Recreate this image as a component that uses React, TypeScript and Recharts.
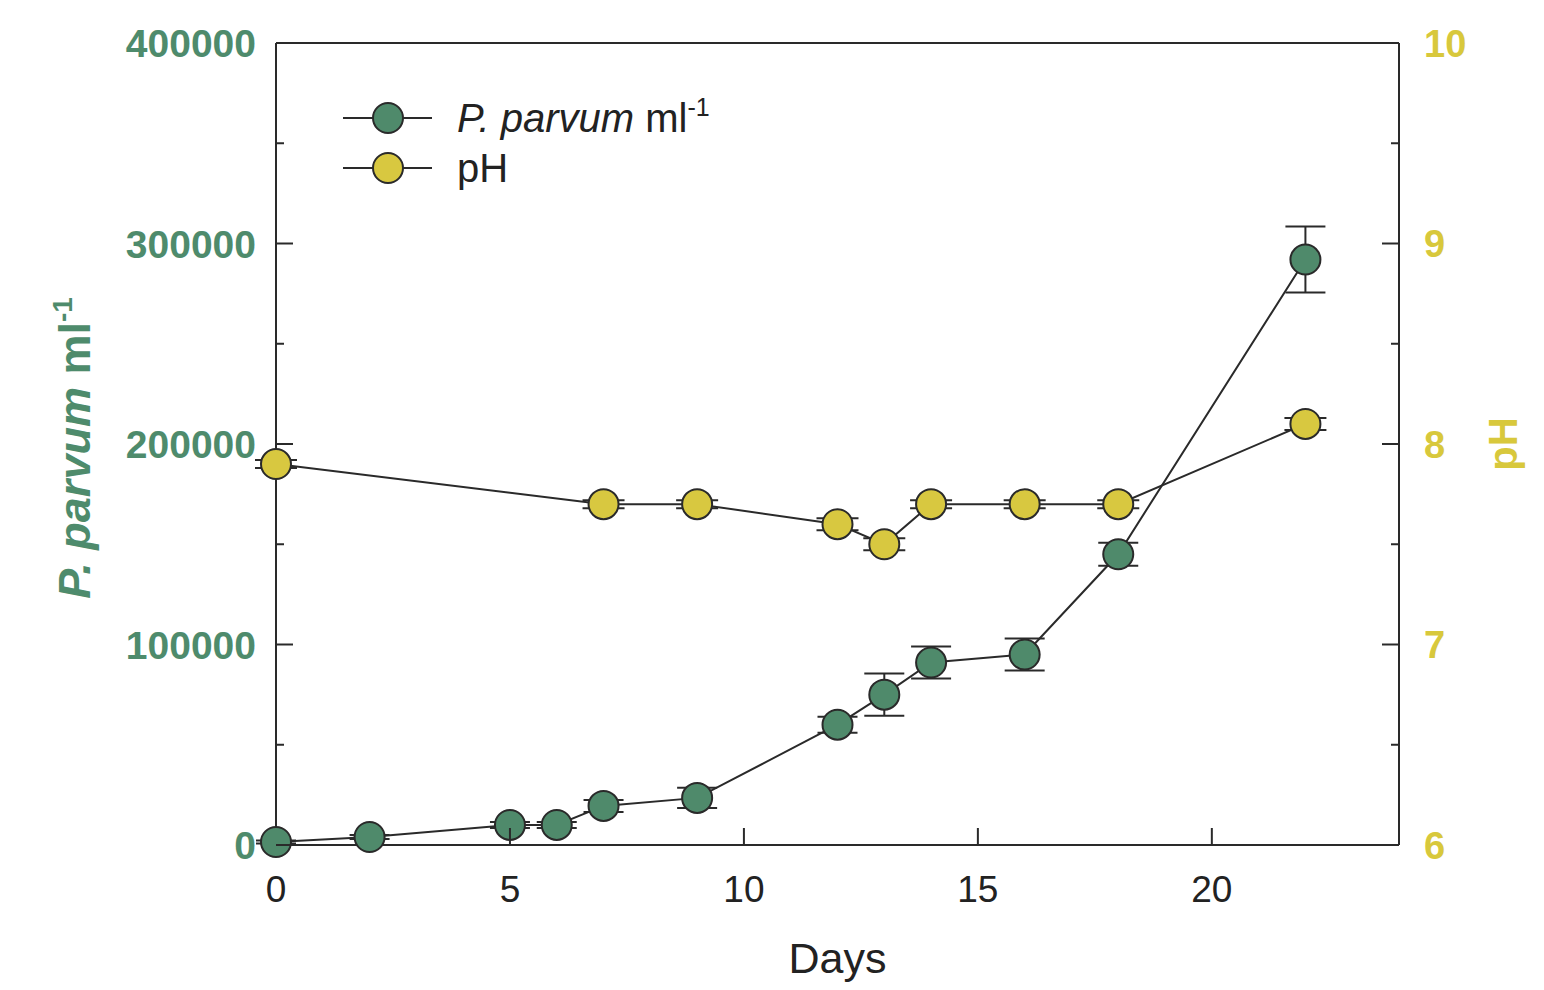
import React from 'react';
import { ComposedChart, Line, XAxis, YAxis, ErrorBar, ReferenceLine, Legend, Label } from 'recharts';

const ppDays = [0, 2, 5, 6, 7, 9, 12, 13, 14, 16, 18, 22];
const ppValues = [1500, 4000, 10000, 10000, 19500, 23500, 60000, 75000, 91000, 95000, 145000, 292000];
const ppErrors = [800, 1000, 1500, 1500, 3000, 5000, 4000, 10500, 8000, 8000, 5700, 16500];

const phDays = [0, 7, 9, 12, 13, 14, 16, 18, 22];
const phValues = [7.9, 7.7, 7.7, 7.6, 7.5, 7.7, 7.7, 7.7, 8.1];
const phErrors = [0.02, 0.02, 0.02, 0.03, 0.03, 0.02, 0.02, 0.02, 0.03];

const xTicks = [0, 5, 10, 15, 20];
const leftTicks = [0, 50000, 100000, 150000, 200000, 250000, 300000, 350000, 400000];
const rightTicks = [6, 6.5, 7, 7.5, 8, 8.5, 9, 9.5, 10];

const ppData = ppDays.map((d, i) => ({ day: d, value: ppValues[i], err: ppErrors[i] }));
const phData = phDays.map((d, i) => ({ day: d, value: phValues[i], err: phErrors[i] }));

const GREEN = '#4f8a6b';
const YELLOW = '#d8c840';
const GREEN_TEXT = '#4e8b6c';
const YELLOW_TEXT = '#d8c83c';
const INK = '#2a2a2a';
const FONT = '"Liberation Sans", Arial, Helvetica, sans-serif';

const LEFT_MARGIN = 20;
const RIGHT_MARGIN = 25;
const BOTTOM_MARGIN = 20;

const LeftTick = (props: any) => {
  const { x, y, payload } = props;
  const v = payload.value;
  const major = v % 100000 === 0;
  const ax = x + LEFT_MARGIN;
  return (
    <g>
      <line x1={ax} y1={y} x2={ax + (major ? 17 : 8)} y2={y} stroke={INK} strokeWidth={2} />
      {major && (
        <text x={x} y={y} dy="0.36em" textAnchor="end" fill={GREEN_TEXT} fontSize={39} fontWeight="bold" fontFamily={FONT}>
          {v}
        </text>
      )}
    </g>
  );
};

const RightTick = (props: any) => {
  const { x, y, payload } = props;
  const v = payload.value;
  const major = Number.isInteger(v);
  const ax = x - RIGHT_MARGIN;
  return (
    <g>
      <line x1={ax} y1={y} x2={ax - (major ? 17 : 8)} y2={y} stroke={INK} strokeWidth={2} />
      {major && (
        <text x={x} y={y} dy="0.36em" textAnchor="start" fill={YELLOW_TEXT} fontSize={38} fontWeight="bold" fontFamily={FONT}>
          {v}
        </text>
      )}
    </g>
  );
};

const BottomTick = (props: any) => {
  const { x, y, payload } = props;
  const ay = y - BOTTOM_MARGIN;
  return (
    <g>
      {payload.value !== 0 && <line x1={x} y1={ay} x2={x} y2={ay - 17} stroke={INK} strokeWidth={2} />}
      <text x={x} y={y} dy={37} textAnchor="middle" fill="#222" fontSize={37} fontFamily={FONT}>
        {payload.value}
      </text>
    </g>
  );
};

const LeftTitle = (props: any) => {
  const vb = props.viewBox || {};
  const cx = vb.x + 44;
  const cy = vb.y + vb.height / 2 + 4;
  return (
    <text
      x={cx}
      y={cy}
      transform={`rotate(-90 ${cx} ${cy})`}
      textAnchor="middle"
      fill={GREEN_TEXT}
      fontSize={45}
      fontWeight="bold"
      fontFamily={FONT}
    >
      <tspan fontStyle="italic">P. parvum</tspan>
      <tspan> ml</tspan>
      <tspan dy={-18} fontSize={28}>-1</tspan>
    </text>
  );
};

const RightTitle = (props: any) => {
  const vb = props.viewBox || {};
  const cx = vb.x + 118;
  const cy = vb.y + vb.height / 2;
  return (
    <text
      x={cx}
      y={cy}
      transform={`rotate(-90 ${cx} ${cy})`}
      textAnchor="middle"
      fill={YELLOW_TEXT}
      fontSize={40}
      fontWeight="bold"
      fontFamily={FONT}
    >
      pH
    </text>
  );
};

const LegendContent = () => (
  <svg width={420} height={110} style={{ display: 'block', overflow: 'visible' }}>
    <g>
      <line x1={0} y1={25} x2={89} y2={25} stroke={INK} strokeWidth={2} />
      <circle cx={45} cy={25} r={15} fill={GREEN} stroke={INK} strokeWidth={2} />
      <text x={114} y={39} fontSize={40} fill="#222" fontFamily={FONT}>
        <tspan fontStyle="italic">P. parvum</tspan>
        <tspan> ml</tspan>
        <tspan dy={-16} fontSize={25}>-1</tspan>
      </text>
    </g>
    <g>
      <line x1={0} y1={75} x2={89} y2={75} stroke={INK} strokeWidth={2} />
      <circle cx={45} cy={75} r={15} fill={YELLOW} stroke={INK} strokeWidth={2} />
      <text x={114} y={89} fontSize={40} fill="#222" fontFamily={FONT}>
        pH
      </text>
    </g>
  </svg>
);

export default function App() {
  return (
    <div style={{ width: 1536, height: 975, background: '#fff' }}>
      <ComposedChart width={1536} height={975} margin={{ top: 35, right: 5, left: 38, bottom: 8 }}>
        <XAxis
          dataKey="day"
          type="number"
          domain={[0, 24]}
          ticks={xTicks}
          interval={0}
          allowDuplicatedCategory={false}
          height={130}
          tickSize={0}
          tickMargin={BOTTOM_MARGIN}
          tickLine={false}
          axisLine={{ stroke: INK, strokeWidth: 2 }}
          tick={<BottomTick />}
        >
          <Label value="Days" position="insideBottom" offset={2} fill="#222" fontSize={43} fontFamily={FONT} />
        </XAxis>
        <YAxis
          yAxisId="left"
          orientation="left"
          domain={[0, 400000]}
          ticks={leftTicks}
          interval={0}
          width={230}
          tickSize={0}
          tickMargin={LEFT_MARGIN}
          tickLine={false}
          axisLine={{ stroke: INK, strokeWidth: 2 }}
          tick={<LeftTick />}
        >
          <Label content={<LeftTitle />} />
        </YAxis>
        <YAxis
          yAxisId="right"
          orientation="right"
          domain={[6, 10]}
          ticks={rightTicks}
          interval={0}
          width={140}
          tickSize={0}
          tickMargin={RIGHT_MARGIN}
          tickLine={false}
          axisLine={{ stroke: INK, strokeWidth: 2 }}
          tick={<RightTick />}
        >
          <Label content={<RightTitle />} />
        </YAxis>
        <ReferenceLine yAxisId="left" y={400000} stroke={INK} strokeWidth={2} />
        <Legend
          layout="vertical"
          verticalAlign="middle"
          align="center"
          content={<LegendContent />}
          wrapperStyle={{ top: 85, left: 335, width: 420, height: 110 }}
        />
        <Line
          yAxisId="left"
          data={ppData}
          dataKey="value"
          name="P. parvum ml-1"
          stroke={INK}
          strokeWidth={2}
          dot={{ r: 15, fill: GREEN, stroke: INK, strokeWidth: 2 }}
          activeDot={false}
          isAnimationActive={false}
        >
          <ErrorBar dataKey="err" width={20} stroke={INK} strokeWidth={2} direction="y" />
        </Line>
        <Line
          yAxisId="right"
          data={phData}
          dataKey="value"
          name="pH"
          stroke={INK}
          strokeWidth={2}
          dot={{ r: 15, fill: YELLOW, stroke: INK, strokeWidth: 2 }}
          activeDot={false}
          isAnimationActive={false}
        >
          <ErrorBar dataKey="err" width={21} stroke={INK} strokeWidth={2} direction="y" />
        </Line>
      </ComposedChart>
    </div>
  );
}
